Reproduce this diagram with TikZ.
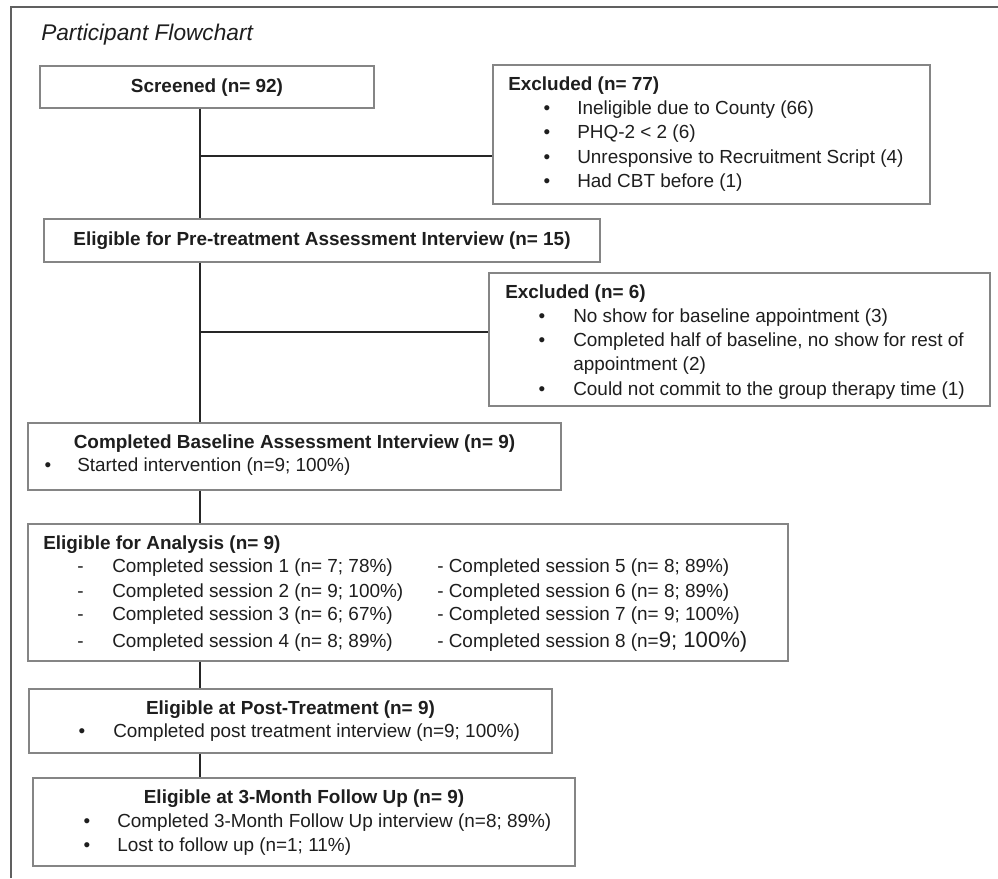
\documentclass[tikz,border=0pt]{standalone}
\usepackage{fontspec}
\setmainfont{Liberation Sans}
\usetikzlibrary{fit}
\definecolor{boxgray}{HTML}{858585}
\definecolor{framegray}{HTML}{606060}
\definecolor{textc}{HTML}{1E1E1E}
\begin{document}
\begin{tikzpicture}[x=0.75pt,y=-0.75pt,
  box/.style={draw=boxgray, line width=1.1pt, inner sep=0pt, rectangle},
  conn/.style={draw=black!85, line width=1.1pt},
  frameline/.style={draw=framegray, line width=1.1pt},
  txt/.style={inner sep=0pt, anchor=base west, text=textc, font=\fontsize{14.2}{17}\selectfont},
  hd/.style={txt, font=\fontsize{14.2}{17}\selectfont\bfseries},
  hdc/.style={hd, anchor=base},
  bul/.style={txt, anchor=base},
  big/.style={font=\fontsize{16.6}{19}\selectfont}
]
\useasboundingbox (0,0) rectangle (998,878);
\fill[white] (0,0) rectangle (998,878);

% outer frame (cropped: top and left edges only)
\coordinate (fbl) at (11,878);
\coordinate (ftl) at (11,7);
\coordinate (ftr) at (998,7);
\draw[frameline] (fbl) -- (ftl) -- (ftr);

\node[txt, font=\fontsize{17}{20}\selectfont\itshape] (title) at (41,40) {Participant Flowchart};

% boxes
\node[box, fit={(40,66) (374,108)}] (screened) {};
\node[box, fit={(493,65) (930,204)}] (ex1) {};
\node[box, fit={(44,219) (600,262)}] (pre) {};
\node[box, fit={(489,273) (990,406)}] (ex2) {};
\node[box, fit={(28,423) (561,490)}] (base) {};
\node[box, fit={(28,524) (788,661)}] (ana) {};
\node[box, fit={(29,689) (552,753)}] (post) {};
\node[box, fit={(33,778) (575,866)}] (fu) {};

% connectors
\coordinate (t1) at (200,156);
\coordinate (t2) at (200,332);
\draw[conn] (screened.south -| t1) -- (pre.north -| t1);
\draw[conn] (t1) -- (t1 -| ex1.west);
\draw[conn] (pre.south -| t2) -- (base.north -| t2);
\draw[conn] (t2) -- (t2 -| ex2.west);
\draw[conn] (base.south -| t2) -- (ana.north -| t2);
\draw[conn] (ana.south -| t2) -- (post.north -| t2);
\draw[conn] (post.south -| t2) -- (fu.north -| t2);

% Screened
\node[hdc] (screenedT) at (207,92) {Screened (n= 92)};

% Excluded 1
\node[hd] (ex1T) at (508,90) {Excluded (n= 77)};
\node[bul] (ex1b1) at (547,114) {•};
\node[txt] (ex1t1) at (577,114) {Ineligible due to County (66)};
\node[bul] (ex1b2) at (547,138) {•};
\node[txt] (ex1t2) at (577,138) {PHQ-2 < 2 (6)};
\node[bul] (ex1b3) at (547,163) {•};
\node[txt] (ex1t3) at (577,163) {Unresponsive to Recruitment Script (4)};
\node[bul] (ex1b4) at (547,187) {•};
\node[txt] (ex1t4) at (577,187) {Had CBT before (1)};

% Pre-treatment
\node[hdc] (preT) at (322,245) {Eligible for Pre-treatment Assessment Interview (n= 15)};

% Excluded 2
\node[hd] (ex2T) at (505,298) {Excluded (n= 6)};
\node[bul] (ex2b1) at (542,322) {•};
\node[txt] (ex2t1) at (573,322) {No show for baseline appointment (3)};
\node[bul] (ex2b2) at (542,346) {•};
\node[txt] (ex2t2) at (573,346) {Completed half of baseline, no show for rest of};
\node[txt] (ex2t2b) at (573,370) {appointment (2)};
\node[bul] (ex2b3) at (542,395) {•};
\node[txt] (ex2t3) at (573,395) {Could not commit to the group therapy time (1)};

% Baseline
\node[hdc] (baseT) at (294.5,448) {Completed Baseline Assessment Interview (n= 9)};
\node[bul] (baseb1) at (48,471) {•};
\node[txt] (baset1) at (77,471) {Started intervention (n=9; 100\%)};

% Analysis
\node[hd] (anaT) at (43,549) {Eligible for Analysis (n= 9)};
\node[txt] (anad1) at (77,572) {-};
\node[txt] (anas1) at (112,572) {Completed session 1 (n= 7; 78\%)};
\node[txt] (anad2) at (77,597) {-};
\node[txt] (anas2) at (112,597) {Completed session 2 (n= 9; 100\%)};
\node[txt] (anad3) at (77,620) {-};
\node[txt] (anas3) at (112,620) {Completed session 3 (n= 6; 67\%)};
\node[txt] (anad4) at (77,647) {-};
\node[txt] (anas4) at (112,647) {Completed session 4 (n= 8; 89\%)};
\node[txt] (anas5) at (437,572) {- Completed session 5 (n= 8; 89\%)};
\node[txt] (anas6) at (437,597) {- Completed session 6 (n= 8; 89\%)};
\node[txt] (anas7) at (437,620) {- Completed session 7 (n= 9; 100\%)};
\node[txt] (anas8) at (437,647) {- Completed session 8 (n={\fontsize{16.6}{19}\selectfont 9; 100\%)}};

% Post-treatment
\node[hdc] (postT) at (290.5,714) {Eligible at Post-Treatment (n= 9)};
\node[bul] (postb1) at (82,737) {•};
\node[txt] (postt1) at (113,737) {Completed post treatment interview (n=9; 100\%)};

% Follow up
\node[hdc] (fuT) at (304,803) {Eligible at 3-Month Follow Up (n= 9)};
\node[bul] (fub1) at (87,827) {•};
\node[txt] (fut1) at (117,827) {Completed 3-Month Follow Up interview (n=8; 89\%)};
\node[bul] (fub2) at (87,851) {•};
\node[txt] (fut2) at (117,851) {Lost to follow up (n=1; 11\%)};
\end{tikzpicture}
\end{document}
